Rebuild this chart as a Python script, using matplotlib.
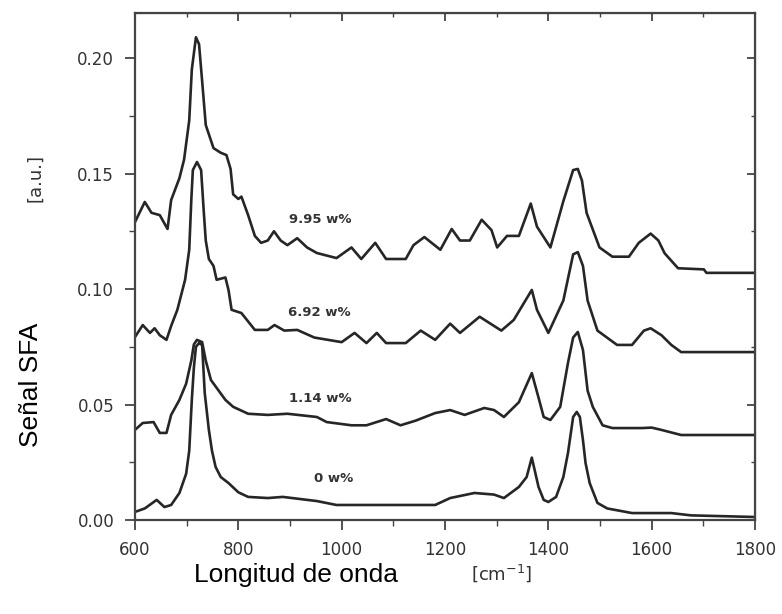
import numpy as np
import matplotlib.pyplot as plt
from matplotlib.ticker import MultipleLocator

x_995 = [600, 619, 632, 648, 663, 670, 686, 695, 705, 710, 718, 724, 730, 737, 743, 752, 766,
         777, 785, 790, 800, 806, 819, 832, 844, 857, 869, 882, 895, 914, 933, 952, 990, 1019,
         1038, 1065, 1086, 1124, 1139, 1160, 1191, 1213, 1229, 1248, 1271, 1290, 1301, 1320,
         1343, 1366, 1378, 1404, 1429, 1448, 1457, 1465, 1474, 1499, 1524, 1556, 1575, 1598,
         1613, 1625, 1651, 1701, 1706, 1800]
y_995 = [0.129, 0.1377, 0.133, 0.132, 0.126, 0.1385, 0.148, 0.156, 0.173, 0.195, 0.209, 0.206,
         0.190, 0.171, 0.167, 0.161, 0.159, 0.158, 0.152, 0.141, 0.139, 0.140, 0.132, 0.123,
         0.120, 0.121, 0.125, 0.121, 0.119, 0.122, 0.118, 0.1156, 0.1134, 0.118, 0.113, 0.120,
         0.113, 0.113, 0.119, 0.1225, 0.117, 0.126, 0.121, 0.121, 0.130, 0.1255, 0.118, 0.123,
         0.123, 0.137, 0.127, 0.118, 0.138, 0.1515, 0.152, 0.147, 0.133, 0.118, 0.114, 0.114,
         0.120, 0.124, 0.121, 0.1155, 0.109, 0.1085, 0.107, 0.107]

x_692 = [600, 615, 629, 638, 648, 661, 670, 682, 697, 705, 709, 712, 720, 728, 733, 737, 743,
         752, 758, 775, 781, 787, 806, 832, 857, 870, 889, 914, 947, 1000, 1025, 1048, 1068,
         1086, 1124, 1153, 1181, 1210, 1229, 1267, 1295, 1309, 1333, 1368, 1378, 1400, 1429,
         1448, 1457, 1467, 1476, 1495, 1533, 1562, 1585, 1598, 1619, 1638, 1657, 1800]
y_692 = [0.0792, 0.0844, 0.081, 0.083, 0.080, 0.078, 0.084, 0.091, 0.104, 0.117, 0.1385, 0.1515,
         0.155, 0.1515, 0.134, 0.121, 0.113, 0.110, 0.104, 0.105, 0.0996, 0.091, 0.0896, 0.0823,
         0.0823, 0.0844, 0.082, 0.0823, 0.079, 0.077, 0.081, 0.0766, 0.081, 0.0766, 0.0766,
         0.082, 0.078, 0.085, 0.081, 0.088, 0.084, 0.082, 0.0866, 0.0996, 0.091, 0.081, 0.095,
         0.115, 0.116, 0.110, 0.095, 0.082, 0.0758, 0.0758, 0.082, 0.083, 0.080, 0.0758,
         0.0727, 0.0727]

x_114 = [600, 615, 636, 648, 661, 670, 686, 699, 709, 714, 720, 730, 737, 747, 762, 775, 790,
         819, 857, 895, 952, 971, 1019, 1048, 1086, 1114, 1143, 1181, 1210, 1238, 1276, 1295,
         1314, 1343, 1368, 1381, 1391, 1404, 1423, 1438, 1448, 1457, 1467, 1476, 1486, 1505,
         1524, 1581, 1600, 1619, 1657, 1800]
y_114 = [0.039, 0.042, 0.0424, 0.0377, 0.0377, 0.0455, 0.052, 0.059, 0.069, 0.076, 0.078, 0.077,
         0.069, 0.0606, 0.056, 0.052, 0.049, 0.046, 0.0455, 0.046, 0.0446, 0.0424, 0.041, 0.041,
         0.0437, 0.041, 0.043, 0.0463, 0.0476, 0.0455, 0.0485, 0.0476, 0.0446, 0.051, 0.0636,
         0.053, 0.0446, 0.0433, 0.049, 0.068, 0.079, 0.0814, 0.0736, 0.056, 0.049, 0.041,
         0.0398, 0.0398, 0.040, 0.039, 0.0368, 0.0368]

x_0 = [600, 619, 642, 657, 670, 686, 699, 705, 710, 714, 718, 724, 730, 735, 743, 749, 756,
       766, 781, 800, 819, 857, 886, 952, 990, 1067, 1181, 1210, 1257, 1295, 1314, 1343, 1358,
       1368, 1381, 1391, 1400, 1415, 1429, 1438, 1448, 1455, 1461, 1467, 1472, 1480, 1495,
       1514, 1562, 1638, 1676, 1800]
y_0 = [0.0035, 0.005, 0.0087, 0.0056, 0.0065, 0.0117, 0.020, 0.030, 0.052, 0.066, 0.075, 0.0766,
       0.0757, 0.055, 0.039, 0.030, 0.023, 0.0186, 0.016, 0.012, 0.010, 0.0095, 0.010, 0.0082,
       0.0065, 0.0065, 0.0065, 0.0095, 0.0117, 0.011, 0.0095, 0.0143, 0.0186, 0.027, 0.0143,
       0.0087, 0.0078, 0.010, 0.0186, 0.029, 0.0446, 0.0468, 0.0446, 0.0346, 0.0247, 0.016,
       0.0074, 0.005, 0.003, 0.003, 0.002, 0.0013]

labels = ["9.95 w%", "6.92 w%", "1.14 w%", "0 w%"]
label_x = [958, 956, 959, 985]
label_y = [0.130, 0.090, 0.0528, 0.018]

fig = plt.figure(figsize=(7.82, 6.14), dpi=100)
ax = fig.add_axes([0.1726, 0.1531, 0.7929, 0.8257])

line_color = '#262626'
for xs, ys in [(x_995, y_995), (x_692, y_692), (x_114, y_114), (x_0, y_0)]:
    ax.plot(xs, ys, color=line_color, lw=1.9)

for lab, lx, ly in zip(labels, label_x, label_y):
    ax.text(lx, ly, lab, ha='center', va='center', fontsize=9.5,
            fontweight='bold', color='#333333')

ax.set_xlim(600, 1800)
ax.set_ylim(0, 0.2195)
ax.xaxis.set_major_locator(MultipleLocator(200))
ax.xaxis.set_minor_locator(MultipleLocator(100))
ax.yaxis.set_major_locator(MultipleLocator(0.05))
ax.yaxis.set_minor_locator(MultipleLocator(0.025))
ax.yaxis.set_major_formatter(plt.FuncFormatter(lambda v, p: f"{v:.2f}"))
ax.tick_params(which='major', direction='out', length=7, width=1.3, colors='#444444',
               labelsize=12, labelcolor='#333333', pad=8)
ax.tick_params(which='minor', direction='out', length=4, width=1.0, colors='#444444')
for s in ax.spines.values():
    s.set_color('#444444')
    s.set_linewidth(1.6)

# inward ticks on top and right
top = ax.secondary_xaxis('top')
top.xaxis.set_major_locator(MultipleLocator(200))
top.xaxis.set_minor_locator(MultipleLocator(100))
top.tick_params(which='both', direction='in', labeltop=False, colors='#444444')
top.tick_params(which='major', length=6, width=1.3)
top.tick_params(which='minor', length=3, width=1.0)
right = ax.secondary_yaxis('right')
right.yaxis.set_major_locator(MultipleLocator(0.05))
right.yaxis.set_minor_locator(MultipleLocator(0.025))
right.tick_params(which='both', direction='in', labelright=False, colors='#444444')
right.tick_params(which='major', length=6, width=1.3)
right.tick_params(which='minor', length=3, width=1.0)

fig.text(31 / 782, 1 - 385 / 614, "Señal SFA", rotation=90, ha='center', va='center',
         fontsize=19, family='Liberation Sans')
fig.text(35 / 782, 1 - 178 / 614, "[a.u.]", rotation=90, ha='center', va='center',
         fontsize=13, color='#333333')
fig.text(296 / 782, 1 - 575 / 614, "Longitud de onda", ha='center', va='center',
         fontsize=19, family='Liberation Sans')
fig.text(502 / 782, 1 - 573 / 614, "[cm$^{-1}$]", ha='center', va='center',
         fontsize=13, color='#333333')

fig.savefig('out.png', dpi=100)
